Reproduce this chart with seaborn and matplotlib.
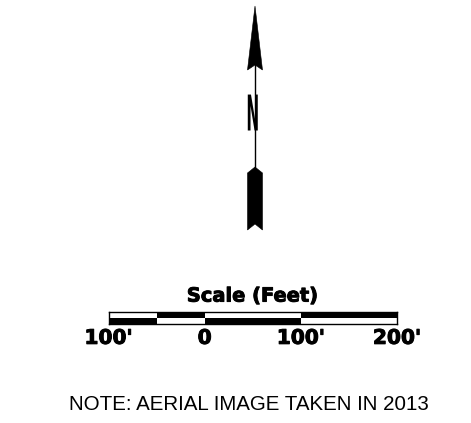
import matplotlib
matplotlib.use("Agg")
import matplotlib.pyplot as plt
import seaborn as sns
import numpy as np
from matplotlib.patheffects import AbstractPathEffect, withStroke
from matplotlib.transforms import Affine2D
from matplotlib.patches import Polygon

# ---- data ----
segment_edges = [-100, -50, 0, 100, 200]          # feet
top_colors = ["white", "black", "white", "black"]
bottom_colors = ["black", "white", "black", "white"]
scale_ticks = [-100, 0, 100, 200]
scale_labels = ["100'", "0", "100'", "200'"]
scale_title = "Scale (Feet)"
north_label = "N"
note_text = "NOTE: AERIAL IMAGE TAKEN IN 2013"

sns.set_theme(style="white")
plt.rcParams['font.family'] = ['DejaVu Sans']

W, H = 471, 423
fig = plt.figure(figsize=(W / 100, H / 100), dpi=100)
fig.patch.set_facecolor("white")

# canvas axes in pixel coordinates
ax = fig.add_axes([0, 0, 1, 1])
ax.set_xlim(0, W)
ax.set_ylim(H, 0)
ax.axis("off")

cx = 255
# arrow head
head = Polygon([(cx, 6), (cx + 7.5, 70), (cx, 65), (cx - 7.5, 70)],
               closed=True, fc="black", ec="black", lw=0.4)
ax.add_patch(head)
# shaft
ax.plot([cx, cx], [64, 170], color="black", lw=1.0, solid_capstyle="butt", zorder=5)
# tail (feather)
tail = Polygon([(cx, 167), (cx + 7.5, 173), (cx + 7.5, 230), (cx, 224),
                (cx - 7.5, 230), (cx - 7.5, 173)],
               closed=True, fc="black", ec="black", lw=0.4)
ax.add_patch(tail)


class Squeeze(AbstractPathEffect):
    def __init__(self, sx):
        super().__init__()
        self.sx = sx

    def draw_path(self, renderer, gc, tpath, affine, rgbFace=None):
        ext = tpath.get_extents(affine)
        c = (ext.x0 + ext.x1) / 2
        aff = affine + Affine2D().translate(-c, 0).scale(self.sx, 1).translate(c, 0)
        renderer.draw_path(gc, tpath, aff, rgbFace)


ax.text(252.7, 116.5, north_label, ha="center", va="center", fontsize=35.5,
        fontweight="bold", color="black", path_effects=[Squeeze(0.31)],
        family="DejaVu Sans")

# note
ax.text(249, 405, note_text, ha="center", va="center", fontsize=14.8,
        family=["Liberation Sans", "DejaVu Sans"], color="black")

# scale bar axes in feet
x0, x1 = 108.5, 397
y_top, y_bot = 312, 324
sax = fig.add_axes([x0 / W, (H - y_bot) / H, (x1 - x0) / W, (y_bot - y_top) / H])
sax.set_xlim(segment_edges[0], segment_edges[-1])
sax.set_ylim(0, 1)
lefts = np.array(segment_edges[:-1])
widths = np.diff(segment_edges)
sax.bar(lefts, 0.5, width=widths, bottom=0.5, align="edge", color=top_colors,
        edgecolor="black", linewidth=0)
sax.bar(lefts, 0.5, width=widths, bottom=0.0, align="edge", color=bottom_colors,
        edgecolor="black", linewidth=0)
for s in sax.spines.values():
    s.set_visible(True)
    s.set_color("black")
    s.set_linewidth(1.0)
sax.set_yticks([])
sax.set_xticks(scale_ticks, scale_labels)
sax.tick_params(axis="x", length=0, pad=3.5, labelsize=14.5, labelcolor="black")
heavy = [withStroke(linewidth=0.7, foreground="black")]
for lab in sax.get_xticklabels():
    lab.set_fontweight("bold")
    lab.set_path_effects(heavy)
t = sax.set_title(scale_title, fontsize=14, fontweight="bold", pad=7.5, color="black")
t.set_path_effects(heavy)

fig.savefig("out.png", dpi=100, facecolor="white")
